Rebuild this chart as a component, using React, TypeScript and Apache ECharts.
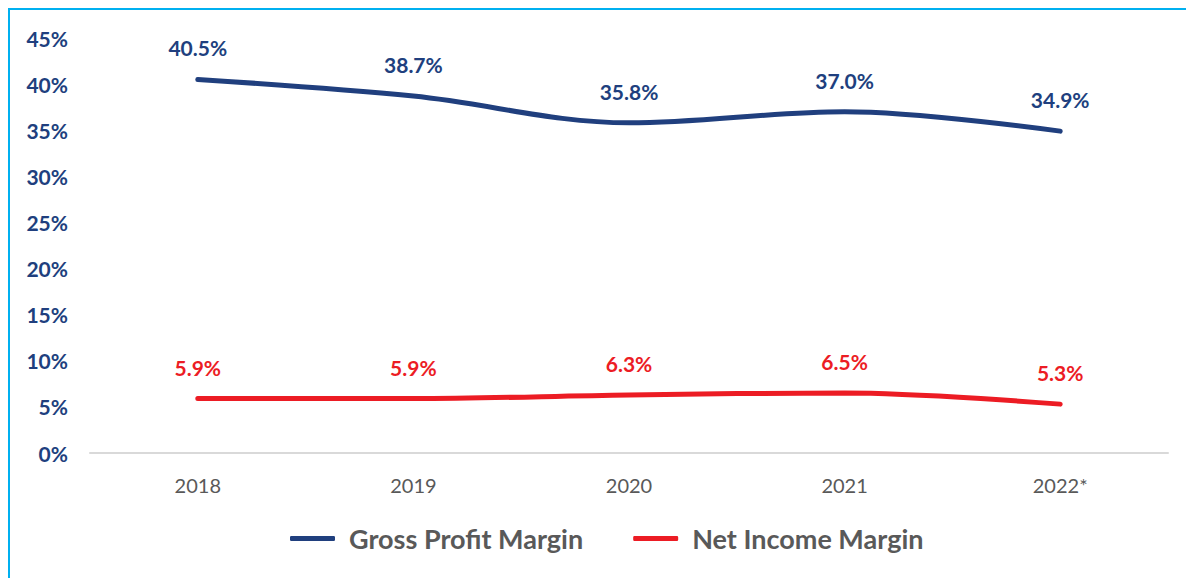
import React, { useEffect, useRef } from "react";
import * as echarts from "echarts";

const categories = ["2018", "2019", "2020", "2021", "2022*"];
const grossProfitMargin = [40.5, 38.7, 35.8, 37.0, 34.9];
const netIncomeMargin = [5.9, 5.9, 6.3, 6.5, 5.3];
const yTicks = { min: 0, max: 45, interval: 5 };

const BLUE = "#203f7e";
const RED = "#ec1c24";
const FONT = "Lato, 'Open Sans', sans-serif";

export default function App() {
  const ref = useRef<HTMLDivElement>(null);
  useEffect(() => {
    const chart = echarts.init(ref.current!, undefined, { renderer: "svg" });
    const mkLabel = (color: string) => ({
      show: true,
      position: "top",
      distance: 21,
      formatter: (p: any) => Number(p.value).toFixed(1) + "%",
      color,
      fontSize: 21,
      fontWeight: "bold",
      fontFamily: FONT,
    });
    chart.setOption({
      animation: false,
      backgroundColor: "#ffffff",
      graphic: [
        {
          type: "rect",
          shape: { x: 9, y: 9, width: 1300, height: 700 },
          style: { fill: "none", stroke: "#00b0f0", lineWidth: 2 },
          silent: true,
        },
      ],
      grid: { left: 90, right: 18, top: 38, bottom: 125, containLabel: false },
      legend: {
        bottom: 21,
        left: 285,
        itemWidth: 45,
        itemHeight: 5,
        itemGap: 50,
        icon: "roundRect",
        textStyle: {
          fontFamily: FONT,
          fontSize: 27,
          fontWeight: "bold",
          color: "#595959",
          padding: [0, 0, 0, 9],
        },
        data: ["Gross Profit Margin", "Net Income Margin"],
      },
      xAxis: {
        type: "category",
        data: categories,
        axisLine: { lineStyle: { color: "#d9d9d9", width: 2 } },
        axisTick: { show: false },
        axisLabel: { color: "#595959", fontSize: 20, fontFamily: FONT, margin: 22 },
      },
      yAxis: {
        type: "value",
        min: yTicks.min,
        max: yTicks.max,
        interval: yTicks.interval,
        splitLine: { show: false },
        axisLine: { show: false },
        axisTick: { show: false },
        axisLabel: {
          formatter: "{value}%",
          color: BLUE,
          fontSize: 21,
          fontWeight: "bold",
          fontFamily: FONT,
          margin: 22,
        },
      },
      series: [
        {
          name: "Gross Profit Margin",
          type: "line",
          data: grossProfitMargin,
          smooth: 0.35,
          symbol: "circle",
          symbolSize: 0.1,
          showSymbol: true,
          lineStyle: { color: BLUE, width: 5, cap: "round" },
          itemStyle: { color: BLUE },
          label: mkLabel(BLUE),
        },
        {
          name: "Net Income Margin",
          type: "line",
          data: netIncomeMargin,
          smooth: 0.35,
          symbol: "circle",
          symbolSize: 0.1,
          showSymbol: true,
          lineStyle: { color: RED, width: 5, cap: "round" },
          itemStyle: { color: RED },
          label: mkLabel(RED),
        },
      ],
    });
    return () => chart.dispose();
  }, []);
  return (
    <div
      ref={ref}
      style={{ position: "fixed", left: 0, top: 0, width: 1186, height: 578 }}
    />
  );
}
